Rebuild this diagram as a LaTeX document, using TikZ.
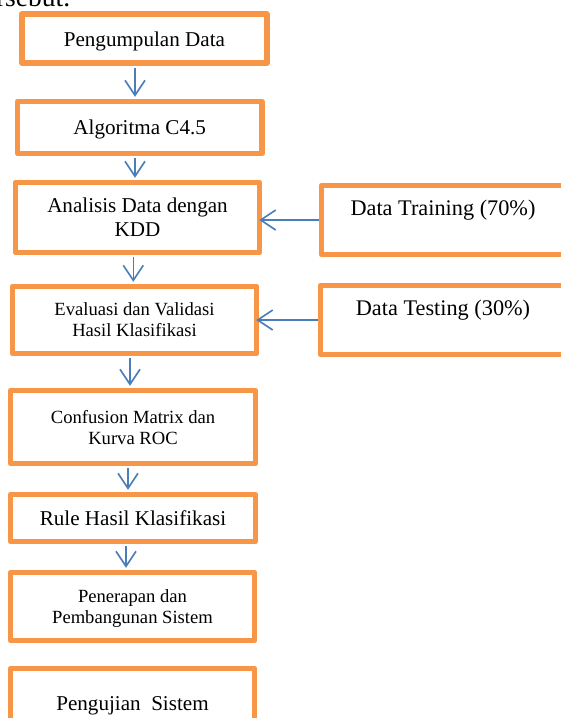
\documentclass[tikz,border=0pt]{standalone}
\usepackage{fontspec}
\setmainfont{Liberation Serif}
\usetikzlibrary{arrows.meta}
\definecolor{boxorange}{HTML}{F79646}
\definecolor{arrowblue}{HTML}{4A7EBB}
\begin{document}
\begin{tikzpicture}[x=1pt,y=-1pt,
  box/.style={draw=boxorange, line width=5.5pt, fill=white, align=center, inner sep=0pt, line join=round, text depth=0pt},
  big/.style={font=\fontsize{21.1}{24}\selectfont},
  small/.style={font=\fontsize{18.6}{21}\selectfont},
  side/.style={font=\fontsize{22.3}{25}\selectfont},
  arr/.style={draw=arrowblue, line width=1.6pt, shorten <=2pt, shorten >=2pt, -{Straight Barb[length=15pt,width=20pt]}},
  harr/.style={arr, shorten <=0pt, shorten >=-3pt}]
\useasboundingbox (0,0) rectangle (561,718);
\clip (0,0) rectangle (561,718);
\fill[white] (0,0) rectangle (561,718);

\node[anchor=base west, inner sep=0pt, font=\fontsize{27.5}{30}\selectfont] (body) at (-24,6.5) {tersebut.};

\node[box,big,minimum width=244.8pt,minimum height=49pt] (n1) at (144.4,38.7) {Pengumpulan Data};
\node[box,big,minimum width=244.3pt,minimum height=52pt] (n2) at (139.7,127.5) {Algoritma C4.5};
\node[box,big,minimum width=244pt,minimum height=70pt] (n3) at (137.5,217.5) {Analisis Data dengan\\KDD};
\node[box,small,minimum width=244pt,minimum height=67pt] (n4) at (134.5,320) {Evaluasi dan Validasi\\Hasil Klasifikasi};
\node[box,small,minimum width=245pt,minimum height=73pt] (n5) at (133,427) {Confusion Matrix dan\\Kurva ROC};
\node[box,big,minimum width=245pt,minimum height=47pt] (n6) at (133,518) {Rule Hasil Klasifikasi};
\node[box,small,minimum width=244pt,minimum height=68pt] (n7) at (132.5,606.5) {Penerapan dan\\Pembangunan Sistem};
\node[box,big,minimum width=244pt,minimum height=70pt] (n8) at (132.5,703.5) {Pengujian\ \ Sistem};

\node[box,side,minimum width=243pt,minimum height=69pt] (r1) at (443,220) {Data Training (70\%)\\\mbox{}};
\node[box,side,minimum width=245pt,minimum height=69pt] (r2) at (443,320) {Data Testing (30\%)\\\mbox{}};

\draw[arr] ([xshift=-9.4pt]n1.south) -- ([xshift=-4.7pt]n2.north);
\draw[arr] ([xshift=-4.7pt]n2.south) -- ([xshift=-2.5pt]n3.north);
\draw[arr] ([xshift=-4.2pt]n3.south) -- ([xshift=-1.2pt]n4.north);
\draw[arr] ([xshift=-4.5pt]n4.south) -- ([xshift=-3pt]n5.north);
\draw[arr] ([xshift=-5pt]n5.south) -- ([xshift=-5pt]n6.north);
\draw[arr] ([xshift=-7pt]n6.south) -- ([xshift=-6.5pt]n7.north);

\draw[harr] (r1.west) -- ([yshift=-2.5pt]n3.east);
\draw[harr] (r2.west) -- (n4.east);
\end{tikzpicture}
\end{document}
